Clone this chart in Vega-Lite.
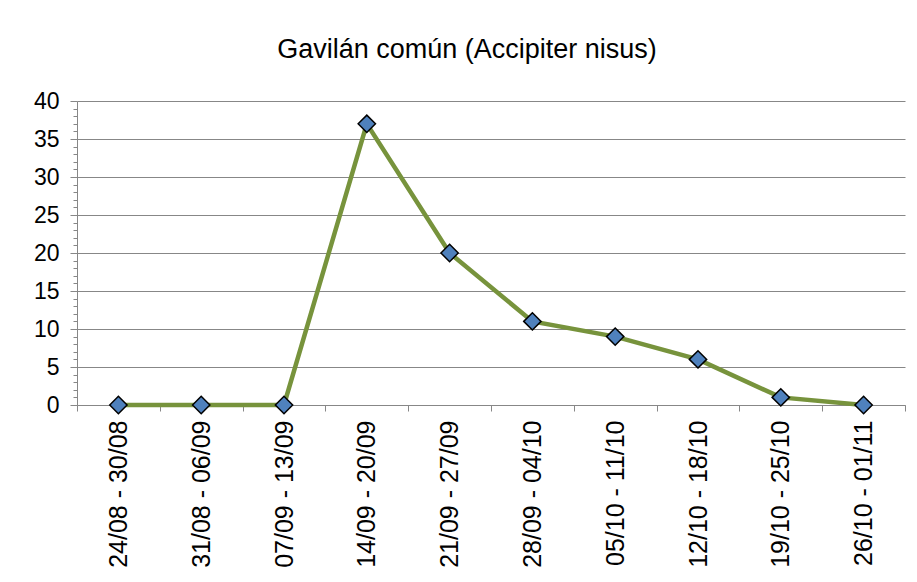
{
  "$schema": "https://vega.github.io/schema/vega-lite/v6.json",
  "autosize": {"type": "none"},
  "width": 828,
  "height": 304,
  "padding": {"left": 77, "top": 101, "right": 12, "bottom": 177},
  "background": "white",
  "title": {
    "text": "Gavilán común (Accipiter nisus)",
    "font": "Liberation Sans",
    "fontSize": 27,
    "fontWeight": "normal",
    "color": "#000000",
    "anchor": "middle",
    "dx": -24,
    "offset": 26
  },
  "config": {
    "view": {"stroke": null},
    "axis": {
      "labelFont": "Liberation Sans",
      "labelColor": "#000000",
      "domainColor": "#878787",
      "tickColor": "#878787",
      "gridColor": "#878787"
    },
    "axisX": {"labelFontSize": 25},
    "axisY": {"labelFontSize": 23}
  },
  "data": {
    "values": [
      {"semana": "24/08 - 30/08", "n": 0},
      {"semana": "31/08 - 06/09", "n": 0},
      {"semana": "07/09 - 13/09", "n": 0},
      {"semana": "14/09 - 20/09", "n": 37},
      {"semana": "21/09 - 27/09", "n": 20},
      {"semana": "28/09 - 04/10", "n": 11},
      {"semana": "05/10 - 11/10", "n": 9},
      {"semana": "12/10 - 18/10", "n": 6},
      {"semana": "19/10 - 25/10", "n": 1},
      {"semana": "26/10 - 01/11", "n": 0}
    ]
  },
  "encoding": {
    "x": {
      "field": "semana", "type": "nominal", "sort": null,
      "scale": {"type": "band", "paddingInner": 0, "paddingOuter": 0},
      "axis": {
        "title": null, "orient": "bottom", "labelAngle": -90,
        "labelPadding": 9, "ticks": true, "tickSize": 6, "tickBand": "extent",
        "grid": false, "domain": true
      }
    },
    "y": {
      "field": "n", "type": "quantitative",
      "scale": {"domain": [0, 40], "nice": false},
      "axis": {
        "title": null, "orient": "left",
        "values": [0,1,2,3,4,5,6,7,8,9,10,11,12,13,14,15,16,17,18,19,20,21,22,23,24,25,26,27,28,29,30,31,32,33,34,35,36,37,38,39,40],
        "labelExpr": "datum.value % 5 === 0 ? datum.label : ''",
        "labelOverlap": false,
        "labelPadding": 11,
        "tickSize": {"condition": {"test": "datum.value % 5 === 0", "value": 7}, "value": 4},
        "grid": true,
        "gridOpacity": {"condition": {"test": "datum.value % 5 === 0", "value": 1}, "value": 0},
        "gridWidth": 1, "domain": true
      }
    }
  },
  "layer": [
    {
      "mark": {"type": "line", "color": "#77933C", "strokeWidth": 4.5}
    },
    {
      "mark": {"type": "point", "shape": "diamond", "filled": true, "fill": "#4F81BD", "stroke": "#000000", "strokeWidth": 1.5, "size": 300, "opacity": 1}
    }
  ]
}
